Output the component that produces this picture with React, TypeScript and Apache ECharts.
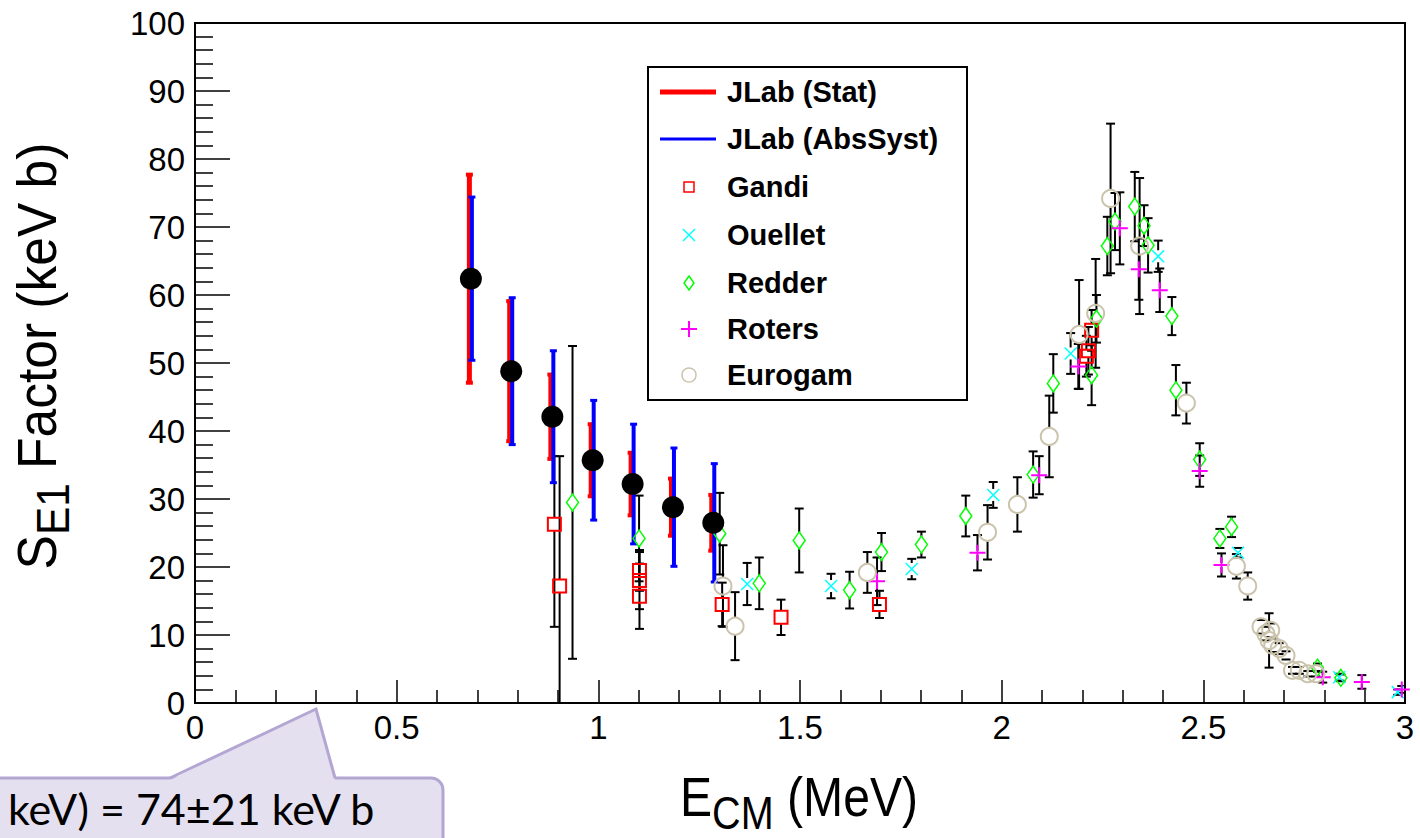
import React, { useEffect, useRef } from 'react';
import * as echarts from 'echarts';

// ---------- data (E_CM in MeV, S_E1 in keV b) ----------
const xTicks = [0, 0.5, 1, 1.5, 2, 2.5, 3];
const yTicks = [0, 10, 20, 30, 40, 50, 60, 70, 80, 90, 100];

const jlabE = [0.684, 0.784, 0.886, 0.986, 1.085, 1.185, 1.285];
const jlabS = [62.4, 48.8, 42.1, 35.7, 32.2, 28.8, 26.5];
const jlabStat = [15.3, 10.3, 6.2, 5.3, 4.6, 4.2, 4.1];
const jlabSyst = [12.0, 10.8, 9.7, 8.8, 8.8, 8.7, 8.7];

const gandiE = [0.891, 0.904, 1.102, 1.102, 1.102, 1.307, 1.453, 1.697, 2.21, 2.215, 2.223];
const gandiS = [26.3, 17.2, 19.5, 18.0, 15.7, 14.5, 12.6, 14.5, 51.0, 51.8, 54.8];
const gandiErrLo = [15.1, 19.1, 3.0, 4.2, 4.8, 3.2, 2.6, 2.0, 3.0, 3.5, 3.0];
const gandiErrHi = [10.0, 19.1, 3.0, 4.2, 4.8, 3.2, 2.6, 2.0, 3.0, 3.5, 3.0];

const ouelletE = [1.369, 1.577, 1.777, 1.979, 2.171, 2.388, 2.586, 2.837, 2.982];
const ouelletS = [17.5, 17.2, 19.7, 30.6, 51.4, 65.7, 22.1, 3.8, 1.6];
const ouelletErr = [3.1, 1.8, 1.5, 1.9, 3.0, 2.3, 0.7, 0.5, 0.4];

const redderE = [0.936, 1.101, 1.301, 1.399, 1.498, 1.623, 1.702, 1.801, 1.911, 2.078, 2.128, 2.223, 2.235, 2.262, 2.281, 2.33, 2.353, 2.363, 2.422, 2.432, 2.491, 2.541, 2.57, 2.783, 2.841];
const redderS = [29.5, 24.2, 24.9, 17.6, 23.9, 16.6, 22.2, 23.3, 27.5, 33.6, 47.0, 48.2, 56.5, 67.2, 70.8, 73.0, 70.2, 67.3, 56.9, 46.0, 35.8, 24.2, 25.9, 5.2, 3.7];
const redderErr = [23.0, 6.3, 6.0, 3.8, 4.7, 2.7, 2.8, 1.9, 3.0, 3.4, 4.3, 4.4, 3.5, 4.3, 4.2, 5.1, 3.0, 4.0, 2.8, 3.7, 2.4, 1.4, 1.5, 0.6, 0.5];

const rotersE = [1.691, 1.94, 2.093, 2.19, 2.293, 2.34, 2.392, 2.491, 2.545, 2.796, 2.893, 2.992];
const rotersS = [17.9, 22.1, 33.5, 49.5, 69.8, 63.8, 60.7, 34.1, 20.3, 3.8, 3.1, 2.0];
const rotersErr = [3.5, 2.6, 2.8, 3.3, 5.3, 4.5, 3.2, 2.3, 1.7, 0.8, 1.0, 0.5];

const eurogamE = [1.309, 1.339, 1.667, 1.965, 2.039, 2.118, 2.192, 2.233, 2.27, 2.342, 2.458, 2.582, 2.61, 2.643, 2.655, 2.663, 2.667, 2.672, 2.688, 2.705, 2.721, 2.738, 2.759, 2.779];
const eurogamS = [17.2, 11.3, 19.2, 25.1, 29.2, 39.2, 54.2, 57.3, 74.2, 67.2, 44.1, 20.1, 17.2, 11.2, 10.2, 9.2, 10.7, 8.5, 8.0, 7.0, 4.8, 4.8, 4.3, 4.3];
const eurogamErr = [6.0, 5.0, 3.0, 4.0, 4.0, 6.0, 8.0, 8.0, 11.0, 10.0, 3.0, 1.8, 2.0, 1.0, 1.0, 4.0, 1.0, 1.0, 0.8, 0.6, 0.5, 0.5, 0.4, 0.4];

const legendNames = ['JLab (Stat)', 'JLab (AbsSyst)', 'Gandi', 'Ouellet', 'Redder', 'Roters', 'Eurogam'];
const calloutText = 'keV) = 74±21 keV b';

// ---------- styling ----------
const FONT = '"Liberation Sans", Arial, Helvetica, sans-serif';
const C_GANDI = '#ff0000';
const C_OUELLET = '#00ffff';
const C_REDDER = '#00ff00';
const C_ROTERS = '#ff00ff';
const C_EUROGAM = '#cbc4ad';

const X_PATH = 'path://M0,0L10,10M10,0L0,10';
const PLUS_PATH = 'path://M5,0L5,10M0,5L10,5';

function pts(xs: number[], ys: number[]) {
  return xs.map((x, i) => [x, ys[i]]);
}
function errPts(xs: number[], ys: number[], lo: number[], hi: number[]) {
  return xs.map((x, i) => [x, ys[i], lo[i], hi[i]]);
}

function errRender(color: string, width: number, capW: number, capH: number, gap: number, dx: number) {
  return (params: any, api: any) => {
    const x = api.value(0);
    const y = api.value(1);
    const lo = api.value(2);
    const hi = api.value(3);
    const topV = y + hi;
    const botV = y - lo;
    const top = api.coord([x, Math.min(topV, 100)]);
    const bot = api.coord([x, Math.max(botV, 0)]);
    const c = api.coord([x, y]);
    const px = c[0] + dx;
    const style = { stroke: color, lineWidth: width };
    const children: any[] = [];
    if (gap > 0) {
      if (c[1] - gap > top[1]) children.push({ type: 'line', shape: { x1: px, y1: top[1], x2: px, y2: c[1] - gap }, style });
      if (bot[1] > c[1] + gap) children.push({ type: 'line', shape: { x1: px, y1: c[1] + gap, x2: px, y2: bot[1] }, style });
    } else {
      children.push({ type: 'line', shape: { x1: px, y1: top[1], x2: px, y2: bot[1] }, style });
    }
    const capStyle = { stroke: color, lineWidth: capH };
    if (topV <= 100) children.push({ type: 'line', shape: { x1: px - capW / 2, y1: top[1], x2: px + capW / 2, y2: top[1] }, style: capStyle });
    if (botV >= 0) children.push({ type: 'line', shape: { x1: px - capW / 2, y1: bot[1], x2: px + capW / 2, y2: bot[1] }, style: capStyle });
    return { type: 'group', children };
  };
}

function errSeries(name: string, data: number[][], color: string, width: number, capW: number, capH: number, gap: number, dx: number) {
  return {
    type: 'custom',
    name,
    data,
    encode: { x: 0, y: 1 },
    clip: true,
    silent: true,
    renderItem: errRender(color, width, capW, capH, gap, dx),
  };
}

function markerSeries(name: string, data: number[][], symbol: string, size: any, color: string, borderColor: string, borderWidth: number) {
  return {
    type: 'scatter',
    name,
    data,
    symbol,
    symbolSize: size,
    silent: true,
    itemStyle: { color, borderColor, borderWidth, opacity: 1 },
  };
}

function legendGraphic() {
  const left = 648;
  const top = 67;
  const rows = [92, 139, 187, 235, 283, 329, 375];
  const cx = 689;
  const children: any[] = [
    { type: 'rect', shape: { x: left, y: top, width: 319, height: 333 }, style: { fill: '#fff', stroke: '#000', lineWidth: 2 } },
  ];
  children.push({ type: 'line', shape: { x1: 660, y1: rows[0], x2: 716, y2: rows[0] }, style: { stroke: '#ff0000', lineWidth: 5 } });
  children.push({ type: 'line', shape: { x1: 660, y1: rows[1], x2: 716, y2: rows[1] }, style: { stroke: '#0000ff', lineWidth: 3 } });
  children.push({ type: 'rect', shape: { x: cx - 5, y: rows[2] - 5, width: 10, height: 10 }, style: { fill: 'none', stroke: C_GANDI, lineWidth: 1.5 } });
  children.push({ type: 'line', shape: { x1: cx - 6, y1: rows[3] - 6, x2: cx + 6, y2: rows[3] + 6 }, style: { stroke: C_OUELLET, lineWidth: 1.5 } });
  children.push({ type: 'line', shape: { x1: cx - 6, y1: rows[3] + 6, x2: cx + 6, y2: rows[3] - 6 }, style: { stroke: C_OUELLET, lineWidth: 1.5 } });
  children.push({ type: 'polygon', shape: { points: [[cx, rows[4] - 7], [cx + 5, rows[4]], [cx, rows[4] + 7], [cx - 5, rows[4]]] }, style: { fill: 'none', stroke: C_REDDER, lineWidth: 1.5 } });
  children.push({ type: 'line', shape: { x1: cx - 8, y1: rows[5], x2: cx + 8, y2: rows[5] }, style: { stroke: C_ROTERS, lineWidth: 2 } });
  children.push({ type: 'line', shape: { x1: cx, y1: rows[5] - 8, x2: cx, y2: rows[5] + 8 }, style: { stroke: C_ROTERS, lineWidth: 2 } });
  children.push({ type: 'circle', shape: { cx, cy: rows[6], r: 7 }, style: { fill: 'none', stroke: C_EUROGAM, lineWidth: 1.5 } });
  legendNames.forEach((n, i) => {
    children.push({
      type: 'text',
      x: 727,
      y: rows[i],
      style: { text: n, fontFamily: FONT, fontSize: 29, fontWeight: 'bold', fill: '#000', align: 'left', verticalAlign: 'middle' },
    });
  });
  return { type: 'group', z: 100, children };
}

function calloutGraphic() {
  const fill = '#e5e0ef';
  const stroke = '#b4a6d3';
  return {
    type: 'group',
    z: 100,
    children: [
      { type: 'rect', shape: { x: -30, y: 778, width: 473, height: 100, r: 12 }, style: { fill, stroke, lineWidth: 3 } },
      { type: 'polygon', shape: { points: [[170, 780], [316, 709], [335, 780]] }, style: { fill } },
      { type: 'polyline', shape: { points: [[170, 778], [316, 709], [335, 778]] }, style: { fill: 'none', stroke, lineWidth: 3, lineJoin: 'miter' } },
      {
        type: 'text',
        x: 8,
        y: 808,
        style: { text: calloutText, fontFamily: 'Lato, "Open Sans", sans-serif', fontSize: 43, fill: '#000', align: 'left', verticalAlign: 'middle' },
      },
    ],
  };
}

function titleGraphics() {
  const rich = {
    m: { fontFamily: FONT, fontSize: 56, fill: '#000', padding: [0, 0, 11, 0], verticalAlign: 'bottom' },
    s: { fontFamily: FONT, fontSize: 46, fill: '#000', verticalAlign: 'bottom' },
  };
  return [
    {
      type: 'text',
      x: 680,
      y: 836,
      scaleX: 0.86,
      style: { text: '{m|E}{s|CM}{m| (MeV)}', rich, align: 'left', verticalAlign: 'bottom' },
    },
    {
      type: 'text',
      x: 42,
      y: 356,
      rotation: Math.PI / 2,
      scaleX: 0.92,
      style: { text: '{m|S}{s|E1}{m| Factor (keV b)}', rich, align: 'center', verticalAlign: 'middle' },
    },
  ];
}

export default function App() {
  const ref = useRef<HTMLDivElement>(null);
  useEffect(() => {
    if (!ref.current) return;
    const chart = echarts.init(ref.current, undefined, { renderer: 'svg' });
    const option: any = {
      animation: false,
      backgroundColor: '#fff',
      grid: { left: 195, top: 23, right: 15, bottom: 135, show: true, borderColor: '#000', borderWidth: 2, backgroundColor: 'transparent' },
      xAxis: {
        type: 'value',
        min: xTicks[0],
        max: xTicks[xTicks.length - 1],
        interval: 0.5,
        axisLine: { show: true, lineStyle: { color: '#000', width: 2 } },
        axisTick: { show: true, inside: true, length: 23, lineStyle: { color: '#000', width: 1.5 } },
        minorTick: { show: true, splitNumber: 5, length: 13, lineStyle: { color: '#000', width: 1.5 } },
        splitLine: { show: false },
        minorSplitLine: { show: false },
        axisLabel: { fontFamily: FONT, fontSize: 33, color: '#000', margin: 8, formatter: (v: number) => String(v) },
      },
      yAxis: {
        type: 'value',
        min: yTicks[0],
        max: yTicks[yTicks.length - 1],
        interval: 10,
        axisLine: { show: true, lineStyle: { color: '#000', width: 2 } },
        axisTick: { show: true, inside: true, length: 35, lineStyle: { color: '#000', width: 1.5 } },
        minorTick: { show: true, splitNumber: 5, length: 18, lineStyle: { color: '#000', width: 1.5 } },
        splitLine: { show: false },
        minorSplitLine: { show: false },
        axisLabel: { fontFamily: FONT, fontSize: 33, color: '#000', margin: 10 },
      },
      series: [
        errSeries('Gandi', errPts(gandiE, gandiS, gandiErrLo, gandiErrHi), '#000', 2, 9, 2, 7, 0),
        errSeries('Ouellet', errPts(ouelletE, ouelletS, ouelletErr, ouelletErr), '#000', 2, 9, 2, 6, 0),
        errSeries('Redder', errPts(redderE, redderS, redderErr, redderErr), '#000', 2, 9, 2, 8, 0),
        errSeries('Roters', errPts(rotersE, rotersS, rotersErr, rotersErr), '#000', 2, 9, 2, 2, 0),
        errSeries('Eurogam', errPts(eurogamE, eurogamS, eurogamErr, eurogamErr), '#000', 2, 9, 2, 9, 0),
        markerSeries('Gandi', pts(gandiE, gandiS), 'rect', 13, 'rgba(0,0,0,0)', C_GANDI, 2),
        markerSeries('Ouellet', pts(ouelletE, ouelletS), X_PATH, 12, 'rgba(0,0,0,0)', C_OUELLET, 1.5),
        markerSeries('Redder', pts(redderE, redderS), 'diamond', [12, 17], 'rgba(0,0,0,0)', C_REDDER, 1.5),
        markerSeries('Roters', pts(rotersE, rotersS), PLUS_PATH, 16, 'rgba(0,0,0,0)', C_ROTERS, 2),
        markerSeries('Eurogam', pts(eurogamE, eurogamS), 'circle', 17, 'rgba(0,0,0,0)', C_EUROGAM, 2),
        errSeries('JLab (Stat)', errPts(jlabE, jlabS, jlabStat, jlabStat), '#ff0000', 5, 7, 4, 0, -1.5),
        errSeries('JLab (AbsSyst)', errPts(jlabE, jlabS, jlabSyst, jlabSyst), '#0000ff', 4, 7, 3, 0, 1),
        markerSeries('JLab', pts(jlabE, jlabS), 'circle', 22, '#000', '#000', 0),
      ],
      graphic: [...titleGraphics(), legendGraphic(), calloutGraphic()],
    };
    chart.setOption(option);
    return () => chart.dispose();
  }, []);
  return <div ref={ref} style={{ position: 'fixed', left: 0, top: 0, width: 1420, height: 838 }} />;
}
